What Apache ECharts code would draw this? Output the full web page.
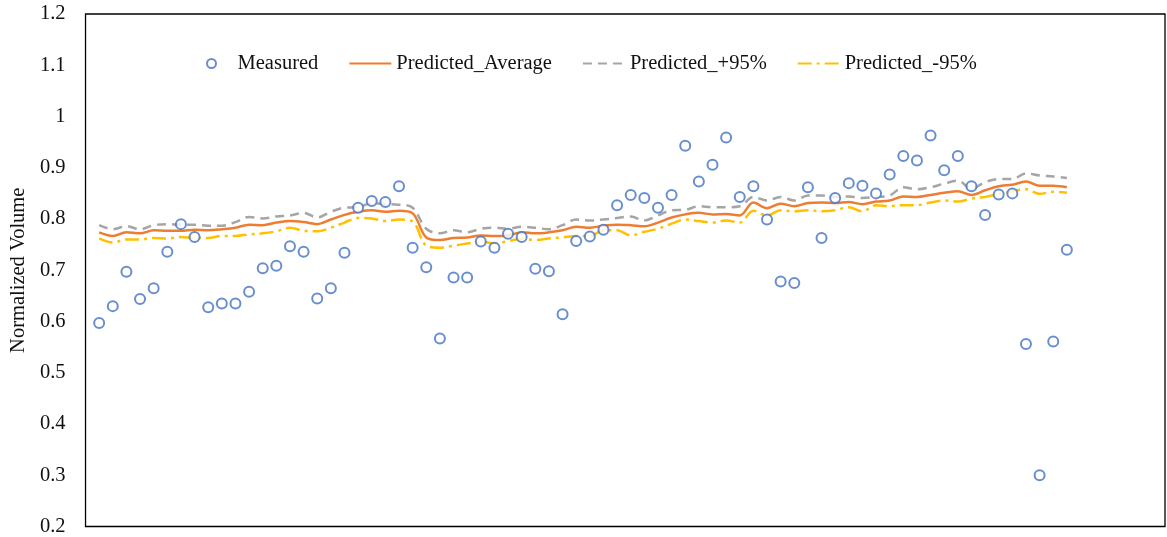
<!DOCTYPE html>
<html>
<head>
<meta charset="utf-8">
<script src="https://cdn.jsdelivr.net/npm/echarts@6/dist/echarts.min.js"></script>
<style>
  html, body { margin: 0; padding: 0; background: #fff; }
  #chart { width: 1167px; height: 537px; }
</style>
</head>
<body>
<div id="chart"></div>
<script>
// sample index along the (hidden) x axis
const sampleIndex = Array.from({ length: 72 }, (_, i) => i + 1);

const measured = [
  0.597, 0.630, 0.697, 0.644, 0.665, 0.736, 0.790, 0.765, 0.628, 0.635,
  0.635, 0.658, 0.704, 0.709, 0.747, 0.736, 0.645, 0.665, 0.734, 0.822,
  0.835, 0.833, 0.864, 0.744, 0.706, 0.567, 0.686, 0.686, 0.756, 0.744,
  0.771, 0.765, 0.703, 0.698, 0.614, 0.757, 0.766, 0.779, 0.827, 0.847,
  0.841, 0.822, 0.847, 0.943, 0.873, 0.906, 0.959, 0.843, 0.864, 0.799,
  0.678, 0.675, 0.862, 0.763, 0.841, 0.870, 0.865, 0.850, 0.887, 0.923,
  0.914, 0.963, 0.895, 0.923, 0.864, 0.808, 0.848, 0.850, 0.556, 0.300,
  0.561, 0.740
];

const predictedAverage = [
  0.774, 0.767, 0.774, 0.772, 0.778, 0.777, 0.777, 0.779, 0.778, 0.780,
  0.783, 0.789, 0.788, 0.793, 0.796, 0.794, 0.790, 0.799, 0.808, 0.814,
  0.817, 0.814, 0.816, 0.811, 0.764, 0.759, 0.763, 0.764, 0.768, 0.767,
  0.768, 0.774, 0.772, 0.774, 0.778, 0.785, 0.783, 0.787, 0.789, 0.788,
  0.786, 0.793, 0.803, 0.809, 0.812, 0.809, 0.810, 0.807, 0.832, 0.821,
  0.830, 0.825, 0.831, 0.832, 0.831, 0.833, 0.829, 0.834, 0.836, 0.844,
  0.843, 0.847, 0.851, 0.854, 0.847, 0.856, 0.864, 0.867, 0.873, 0.865,
  0.865, 0.862
];

const predictedUpper = [
  0.788, 0.780, 0.786, 0.780, 0.788, 0.790, 0.789, 0.789, 0.787, 0.787,
  0.794, 0.804, 0.801, 0.805, 0.807, 0.812, 0.803, 0.814, 0.822, 0.823,
  0.831, 0.829, 0.828, 0.822, 0.781, 0.772, 0.778, 0.774, 0.781, 0.783,
  0.781, 0.785, 0.783, 0.780, 0.788, 0.799, 0.797, 0.799, 0.802, 0.805,
  0.797, 0.807, 0.817, 0.818, 0.825, 0.823, 0.823, 0.825, 0.843, 0.836,
  0.843, 0.836, 0.846, 0.846, 0.843, 0.844, 0.841, 0.843, 0.846, 0.862,
  0.858, 0.862, 0.869, 0.875, 0.859, 0.872, 0.878, 0.878, 0.889, 0.885,
  0.883, 0.880
];

const predictedLower = [
  0.762, 0.754, 0.760, 0.760, 0.763, 0.762, 0.765, 0.763, 0.763, 0.767,
  0.767, 0.770, 0.772, 0.776, 0.783, 0.777, 0.776, 0.783, 0.793, 0.802,
  0.801, 0.796, 0.799, 0.795, 0.748, 0.744, 0.748, 0.752, 0.756, 0.752,
  0.757, 0.761, 0.759, 0.762, 0.764, 0.767, 0.767, 0.778, 0.778, 0.768,
  0.775, 0.781, 0.791, 0.799, 0.796, 0.793, 0.797, 0.793, 0.816, 0.807,
  0.817, 0.815, 0.817, 0.815, 0.817, 0.823, 0.815, 0.827, 0.825, 0.827,
  0.827, 0.832, 0.836, 0.834, 0.840, 0.843, 0.849, 0.854, 0.858, 0.849,
  0.853, 0.851
];

const yTickLabels = ['0.2', '0.3', '0.4', '0.5', '0.6', '0.7', '0.8', '0.9', '1', '1.1', '1.2'];

const pair = (vals) => vals.map((v, i) => [sampleIndex[i], v]);

const chart = echarts.init(document.getElementById('chart'));
const font = '"Liberation Serif", "Times New Roman", serif';
const fs = 20.5;

const option = {
  animation: false,
  textStyle: { fontFamily: font },
  grid: {
    left: 82, top: 14, right: 2, bottom: 7,
    show: true, borderColor: '#000', borderWidth: 1.3
  },
  legend: {
    left: 201, top: 48,
    itemWidth: 42, itemHeight: 9, itemGap: 30,
    textStyle: { fontFamily: font, fontSize: fs, color: '#111' },
    data: [
      'Measured',
      { name: 'Predicted_Average', itemStyle: { opacity: 0 } },
      { name: 'Predicted_+95%', itemStyle: { opacity: 0 } },
      { name: 'Predicted_-95%', itemStyle: { opacity: 0 } }
    ]
  },
  xAxis: {
    type: 'value', min: 0, max: 79.2,
    axisLine: { show: false }, axisTick: { show: false },
    axisLabel: { show: false }, splitLine: { show: false }
  },
  yAxis: {
    type: 'value', min: 0.2, max: 1.2, interval: 0.1,
    name: 'Normalized Volume', nameLocation: 'middle', nameGap: 56,
    nameTextStyle: { fontFamily: font, fontSize: fs, color: '#111' },
    axisLine: { show: false }, axisTick: { show: false },
    splitLine: { show: false },
    axisLabel: {
      fontFamily: font, fontSize: fs, color: '#111', margin: 20,
      formatter: (v) => yTickLabels[Math.round((v - 0.2) / 0.1)]
    }
  },
  series: [
    {
      name: 'Measured', type: 'scatter', data: pair(measured),
      symbol: 'emptyCircle', symbolSize: 10,
      itemStyle: { color: '#4472C4', borderColor: '#4472C4', borderWidth: 1.5 },
      z: 5
    },
    {
      name: 'Predicted_Average', type: 'line', data: pair(predictedAverage),
      symbol: 'none', smooth: 0.35,
      lineStyle: { color: '#ED7D31', width: 2.5 },
      itemStyle: { color: '#ED7D31' }
    },
    {
      name: 'Predicted_+95%', type: 'line', data: pair(predictedUpper),
      symbol: 'none', smooth: 0.35,
      lineStyle: { color: '#A5A5A5', width: 2.5, type: [9, 6] },
      itemStyle: { color: '#A5A5A5' }
    },
    {
      name: 'Predicted_-95%', type: 'line', data: pair(predictedLower),
      symbol: 'none', smooth: 0.35,
      lineStyle: { color: '#FFC000', width: 2.5, type: [14, 5, 3, 5] },
      itemStyle: { color: '#FFC000' }
    }
  ]
};

chart.setOption(option);
</script>
</body>
</html>
